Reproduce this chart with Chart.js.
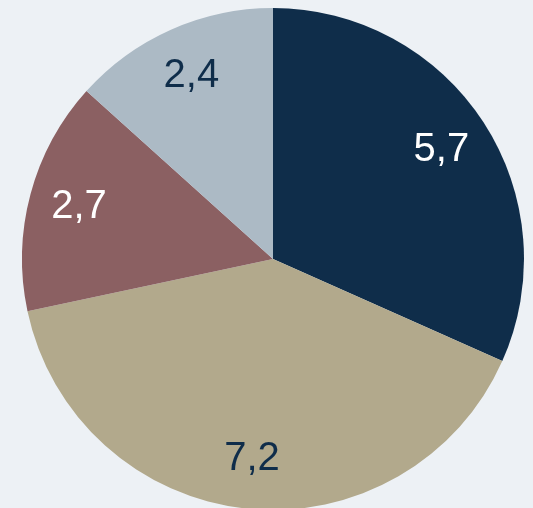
<!DOCTYPE html>
<html>
<head>
<meta charset="utf-8">
<script src="https://cdn.jsdelivr.net/npm/chart.js@4"></script>
<style>
  html, body { margin: 0; padding: 0; background: #edf1f5; overflow: hidden; }
  #wrap { width: 533px; height: 508px; overflow: hidden; }
  #wrap canvas { display: block; }
</style>
</head>
<body>
<div id="wrap"><canvas id="pieChart" width="533" height="512"></canvas></div>
<script>
// slice data, clockwise from the top
const categories = ["A", "B", "C", "D"];
const values = [5.7, 7.2, 2.7, 2.4];
const colors = ["#0f2d4a", "#b2a98c", "#8b6062", "#acbac5"];
const labelColors = ["#ffffff", "#0f2d4a", "#ffffff", "#0f2d4a"];

// draws the value inside each slice with a comma decimal
const sliceLabels = {
  id: "sliceLabels",
  afterDatasetsDraw(chart) {
    const ctx = chart.ctx;
    const meta = chart.getDatasetMeta(0);
    ctx.save();
    ctx.font = "40px 'Liberation Sans', Arial, sans-serif";
    ctx.textAlign = "center";
    ctx.textBaseline = "middle";
    meta.data.forEach((arc, i) => {
      const mid = (arc.startAngle + arc.endAngle) / 2;
      const r = arc.outerRadius * 0.8;
      const x = arc.x + Math.cos(mid) * r;
      const y = arc.y + Math.sin(mid) * r;
      ctx.fillStyle = labelColors[i];
      ctx.fillText(values[i].toFixed(1).replace(".", ","), x, y);
    });
    ctx.restore();
  }
};

new Chart(document.getElementById("pieChart").getContext("2d"), {
  type: "pie",
  data: {
    labels: categories,
    datasets: [{
      data: values,
      backgroundColor: colors,
      borderWidth: 0
    }]
  },
  options: {
    responsive: false,
    animation: false,
    layout: { padding: { left: 22, right: 9, top: 8, bottom: 2 } },
    plugins: {
      legend: { display: false },
      tooltip: { enabled: false }
    }
  },
  plugins: [sliceLabels]
});
</script>
</body>
</html>
